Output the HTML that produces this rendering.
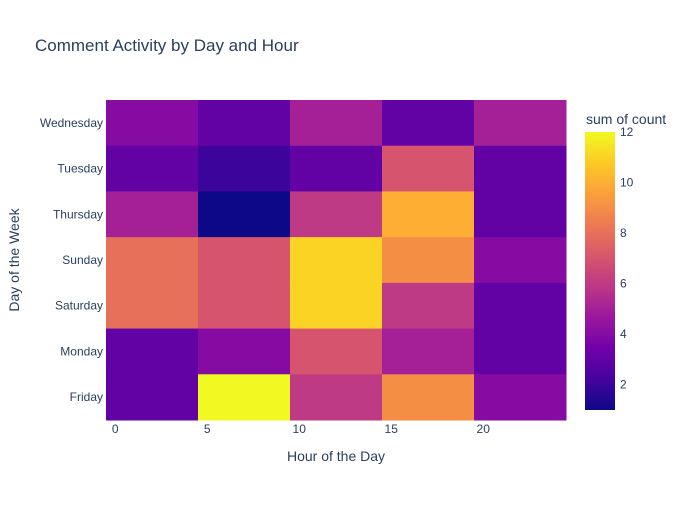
<!DOCTYPE html>
<html><head><meta charset="utf-8"><style>
body{margin:0;background:#fff;font-family:"Liberation Sans",sans-serif}
svg text{font-family:"Liberation Sans",sans-serif;fill:#2a3f5f}
</style></head><body>
<svg id="chart" width="700" height="500">
<text x="35" y="51" font-size="17">Comment Activity by Day and Hour</text>
<g id="cells"></g>
<g id="axes"></g>
<text x="336" y="461" font-size="14" text-anchor="middle">Hour of the Day</text>
<text transform="translate(19,260) rotate(-90)" font-size="14" text-anchor="middle">Day of the Week</text>
<text x="586" y="124" font-size="14">sum of count</text>
<defs><linearGradient id="pl" x1="0" y1="1" x2="0" y2="0"></linearGradient></defs>
<rect x="585" y="132" width="30" height="278" fill="url(#pl)"/>
<g id="cbticks"></g>
</svg>
<script>
const days=["Wednesday","Tuesday","Thursday","Sunday","Saturday","Monday","Friday"];
const binStarts=[0,5,10,15,20];
const values=[
[4,3,5,3,5],
[3,2,3,7,3],
[5,1,6,10,3],
[8,7,11,9,4],
[8,7,11,6,3],
[3,4,7,5,3],
[3,12,6,9,4]];
const xTicks=[0,5,10,15,20];
const cbTicks=[2,4,6,8,10,12];
const cmin=1,cmax=12;
const plasma=['#0d0887','#46039f','#7201a8','#9c179e','#bd3786','#d8576b','#ed7953','#fb9f3a','#fdca26','#f0f921'];
const NS="http://www.w3.org/2000/svg";
const X0=106,X1=566,Y0=100,Y1=420;
const xs=h=>X0+(h+0.5)/25*(X1-X0);
const ys=i=>Y0+i*(Y1-Y0)/days.length;
const rowH=(Y1-Y0)/days.length;
function hex(c){return [1,3,5].map(i=>parseInt(c.substr(i,2),16));}
function color(v){let t=(v-cmin)/(cmax-cmin)*(plasma.length-1);let i=Math.min(Math.floor(t),plasma.length-2);let f=t-i;
 let a=hex(plasma[i]),b=hex(plasma[i+1]);return 'rgb('+a.map((x,k)=>Math.round(x+(b[k]-x)*f)).join(',')+')';}
function mk(t,at,p){const e=document.createElementNS(NS,t);for(const k in at)e.setAttribute(k,at[k]);p.appendChild(e);return e;}
const cells=document.getElementById('cells'),axes=document.getElementById('axes');
values.forEach((row,i)=>row.forEach((v,j)=>{
 const x=xs(binStarts[j]-0.5),w=xs(binStarts[j]+4.5)-x;
 const r=mk('rect',{x:x,y:ys(i),width:w+0.5,height:rowH+0.5,fill:color(v)},cells);
 
 
}));
days.forEach((d,i)=>{const t=mk('text',{x:X0-3,y:ys(i)+rowH/2+4,'font-size':12,'text-anchor':'end'},axes);t.textContent=d;
 
 });
xTicks.forEach(v=>{const t=mk('text',{x:xs(v),y:433,'font-size':12,'text-anchor':'middle'},axes);t.textContent=v;
 
 });
const g=document.getElementById('pl');
plasma.forEach((c,i)=>mk('stop',{offset:i/(plasma.length-1),'stop-color':c},g));
const cbt=document.getElementById('cbticks');
cbTicks.forEach(v=>{const y=410-(v-cmin)/(cmax-cmin)*278;
 const t=mk('text',{x:620,y:y+4,'font-size':12},cbt);t.textContent=v;
 
 });
</script>
</body></html>
